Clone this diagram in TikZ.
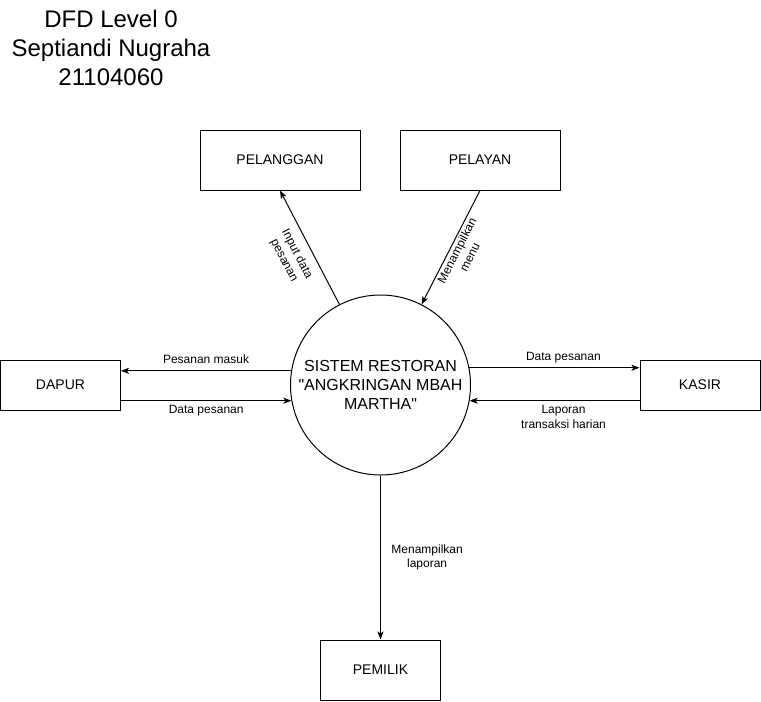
\documentclass[tikz,border=0pt]{standalone}
\usepackage{fontspec}
\setmainfont{Liberation Sans}
\usetikzlibrary{arrows.meta}
\tikzset{>={Stealth[length=6pt,width=4.5pt,inset=1.5pt]}}
\tikzset{
  entity/.style={draw,line width=0.75pt,font=\fontsize{10.5}{12.6}\selectfont},
  proses/.style={draw,circle,line width=0.75pt,minimum size=135pt,inner sep=0pt,
    align=center,font=\fontsize{12}{14.4}\selectfont},
  flow/.style={line width=0.75pt},
  lbl/.style={font=\fontsize{9}{10.8}\selectfont,align=center}
}

\begin{document}
\begin{tikzpicture}[x=0.75pt,y=0.75pt]
  \useasboundingbox (0,0) rectangle (761,-701);
  % judul
  \node[align=center,font=\fontsize{18}{21.6}\selectfont] (judul) at (111,-48)
    {DFD Level 0\\Septiandi Nugraha\\21104060};
  % entitas luar
  \node[entity,minimum width=120pt,minimum height=45pt] (pelanggan) at (280,-160) {PELANGGAN};
  \node[entity,minimum width=120pt,minimum height=45pt] (pelayan) at (480,-160) {PELAYAN};
  \node[entity,minimum width=90pt,minimum height=37.5pt] (dapur) at (60.5,-385) {DAPUR};
  \node[entity,minimum width=90pt,minimum height=37.5pt] (kasir) at (700,-385) {KASIR};
  \node[entity,minimum width=90pt,minimum height=45pt] (pemilik) at (380.5,-670) {PEMILIK};
  % proses
  \node[proses] (sistem) at (380.5,-385)
    {SISTEM RESTORAN\\\textquotedbl ANGKRINGAN MBAH\\MARTHA\textquotedbl};
  % aliran data
  \draw[->,flow] (sistem.117) -- (pelanggan.south)
    node[midway,sloped,below=3pt,lbl] {Input data\\pesanan};
  \draw[->,flow] (pelayan.south) -- (sistem.63)
    node[midway,sloped,below=-2pt,lbl] {Menampilkan\\menu};
  \draw[->,flow] (sistem.171) -- (sistem.171 -| dapur.east)
    node[midway,above=1.5pt,lbl] {Pesanan masuk};
  \draw[->,flow] (dapur.east |- sistem.190) -- (sistem.190)
    node[midway,below,lbl] {Data pesanan};
  \draw[->,flow] (sistem.11) -- (sistem.11 -| kasir.west)
    node[midway,above,lbl,xshift=6.75pt] {Data pesanan};
  \draw[->,flow] (kasir.west |- sistem.-10) -- (sistem.-10)
    node[midway,below,lbl,xshift=6.75pt] {Laporan\\transaksi harian};
  \draw[->,flow] (sistem.south) -- (pemilik.north)
    node[midway,right=4.5pt,lbl] {Menampilkan\\laporan};
\end{tikzpicture}
\end{document}
